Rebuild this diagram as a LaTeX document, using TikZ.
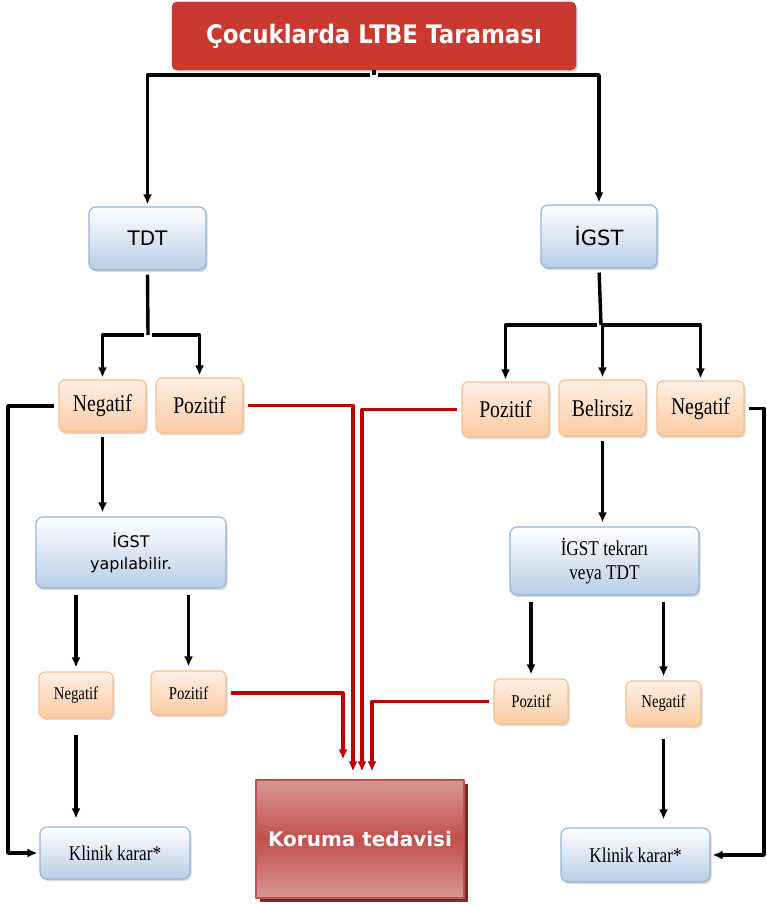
\documentclass[tikz,border=0pt]{standalone}
\usepackage{fontspec}
\setmainfont{Liberation Serif}
\newfontfamily\narrowserif{Liberation Serif}[FakeStretch=0.82]
\newfontfamily\boxsans{DejaVu Sans}
\newfontfamily\titlesans{DejaVu Sans}[FakeStretch=0.9]
\usetikzlibrary{arrows.meta,shadows}
\definecolor{titlered}{HTML}{C9392F}
\definecolor{blueedge}{HTML}{95B3D7}
\definecolor{bluelow}{HTML}{B9CDE5}
\definecolor{orangeedge}{HTML}{F9BE8F}
\definecolor{orangelow}{HTML}{FBCBA3}
\definecolor{orangetop}{HTML}{FFF0E5}
\definecolor{korumamid}{HTML}{C0504D}
\definecolor{korumaend}{HTML}{D99694}
\definecolor{arrowred}{HTML}{C00000}
\begin{document}
\begin{tikzpicture}[x=1pt,y=-1pt,line join=round,>={Latex[length=10pt,width=9pt]}]
	\tikzset{
		softshadow/.style={drop shadow={shadow xshift=1.5pt,shadow yshift=-2pt,opacity=.3}},
		bluebox/.style={rounded corners=7pt,draw=blueedge,line width=1.1pt,top color=white,bottom color=bluelow,softshadow,inner sep=0pt,align=center},
		orangebox/.style={rounded corners=6pt,draw=orangeedge,line width=1.1pt,top color=orangetop,bottom color=orangelow,softshadow,inner sep=0pt,align=center},
		blackline/.style={line width=3.4pt,shorten <=4pt,shorten >=2pt},
		redline/.style={line width=3.2pt,draw=arrowred,shorten <=4pt,shorten >=8pt},
	}
	\useasboundingbox (0,0) rectangle (766,907);
	% title and screening tests
	\node[rounded corners=5pt,draw=titlered!85!black,fill=titlered,minimum width=404pt,minimum height=68pt,
		softshadow,text=white,font=\titlesans\bfseries\fontsize{25.5}{30}\selectfont] (title) at (374,36) {Çocuklarda LTBE Taraması};
	\node[bluebox,minimum width=117pt,minimum height=63pt,font=\boxsans\fontsize{20}{24}\selectfont] (tdt) at (147.5,238.5) {TDT};
	\node[bluebox,minimum width=116pt,minimum height=63pt,font=\boxsans\fontsize{21}{24}\selectfont] (igst) at (599,236.5) {İGST};
	\coordinate (titlesplit) at (374,75);
	\draw[blackline,shorten <=0pt,shorten >=0pt] (title.south) -- (titlesplit);
	\draw[blackline,->] (titlesplit) -| (tdt.north);
	\draw[blackline,->] (titlesplit) -| (igst.north);
	% first results
	\node[orangebox,minimum width=87pt,minimum height=52pt,font=\narrowserif\fontsize{24}{26}\selectfont] (negL) at (102.5,406) {Negatif};
	\node[orangebox,minimum width=87pt,minimum height=55pt,font=\narrowserif\fontsize{24}{26}\selectfont] (pozL) at (199.5,405.5) {Pozitif};
	\node[orangebox,minimum width=87pt,minimum height=55pt,font=\narrowserif\fontsize{24}{26}\selectfont] (pozR) at (505.5,409.5) {Pozitif};
	\node[orangebox,minimum width=87pt,minimum height=56pt,font=\narrowserif\fontsize{24}{26}\selectfont] (bel) at (602.5,408) {Belirsiz};
	\node[orangebox,minimum width=87pt,minimum height=55pt,font=\narrowserif\fontsize{24}{26}\selectfont] (negR) at (700.5,408.5) {Negatif};
	\coordinate (tdtsplit) at (148,335);
	\coordinate (igstsplit) at (601,325);
	\draw[blackline,shorten >=0pt] (tdt.south) -- (tdtsplit);
	\draw[blackline,->] (tdtsplit) -| (negL.north);
	\draw[blackline,->] (tdtsplit) -| (pozL.north);
	\draw[blackline,shorten >=0pt] (igst.south) -- (igstsplit);
	\draw[blackline,->] (igstsplit) -| (pozR.north);
	\draw[blackline,->] (igstsplit) -| (bel.north);
	\draw[blackline,->] (igstsplit) -| (negR.north);
	% second tests
	\node[bluebox,minimum width=190pt,minimum height=71pt,font=\boxsans\fontsize{16}{22}\selectfont] (igstL) at (131,552.5) {İGST\\yapılabilir.};
	\node[bluebox,minimum width=189pt,minimum height=68pt,font=\narrowserif\fontsize{21}{24}\selectfont] (igstR) at (604.5,561) {İGST tekrarı\\veya TDT};
	\draw[blackline,->,shorten >=4pt] (negL.south) -- (negL.south |- igstL.north);
	\draw[blackline,->,shorten >=4pt] (bel.south) -- (bel.south |- igstR.north);
	% second results
	\node[orangebox,minimum width=74pt,minimum height=46pt,font=\narrowserif\fontsize{18}{20}\selectfont] (negLs) at (76,695) {Negatif};
	\node[orangebox,minimum width=75pt,minimum height=44pt,font=\narrowserif\fontsize{18}{20}\selectfont] (pozLs) at (188.5,693) {Pozitif};
	\node[orangebox,minimum width=74pt,minimum height=45pt,font=\narrowserif\fontsize{18}{20}\selectfont] (pozRs) at (531,701.5) {Pozitif};
	\node[orangebox,minimum width=75pt,minimum height=45pt,font=\narrowserif\fontsize{18}{20}\selectfont] (negRs) at (663.5,703.5) {Negatif};
	\draw[blackline,->,shorten <=6pt,shorten >=4pt] (igstL.south -| negLs) -- (negLs.north);
	\draw[blackline,->,shorten <=6pt,shorten >=4pt] (igstL.south -| pozLs) -- (pozLs.north);
	\draw[blackline,->,shorten <=6pt,shorten >=4pt] (igstR.south -| pozRs) -- (pozRs.north);
	\draw[blackline,->,shorten <=6pt,shorten >=4pt] (igstR.south -| negRs) -- (negRs.north);
	% decisions
	\node[bluebox,minimum width=150pt,minimum height=52pt,font=\narrowserif\fontsize{21}{24}\selectfont] (klinL) at (115,853) {Klinik karar*};
	\node[bluebox,minimum width=149pt,minimum height=54pt,font=\narrowserif\fontsize{21}{24}\selectfont] (klinR) at (635.5,855) {Klinik karar*};
	\node[draw=korumamid,line width=1.1pt,top color=korumaend,bottom color=korumaend,middle color=korumamid,
		drop shadow={shadow xshift=4pt,shadow yshift=-4pt,fill=korumamid!60!black,opacity=1},
		minimum width=208pt,minimum height=118pt,text=white,font=\boxsans\bfseries\fontsize{20}{24}\selectfont] (koruma) at (360,839) {Koruma tedavisi};
	\coordinate (negLturn) at (8,406);
	\coordinate (negRturn) at (764,408.5);
	\draw[blackline,->] (negL.west) -- (negLturn) |- (klinL.west);
	\draw[blackline,->] (negR.east) -- (negRturn) |- (klinR.east);
	\draw[blackline,->,shorten <=16pt,shorten >=8pt] (negLs.south) -- (negLs.south |- klinL.north);
	\draw[blackline,->,shorten <=12pt,shorten >=8pt] (negRs.south) -- (negRs.south |- klinR.north);
	% red arrows to treatment
	\draw[redline,->] (pozL.east) -| ([xshift=-7pt]koruma.north);
	\draw[redline,->] (pozR.west) -| ([xshift=2pt]koruma.north);
	\draw[redline,->,shorten >=20pt] (pozLs.east) -| ([xshift=-17pt]koruma.north);
	\draw[redline,->] (pozRs.west) -| ([xshift=12pt]koruma.north);
\end{tikzpicture}
\end{document}
